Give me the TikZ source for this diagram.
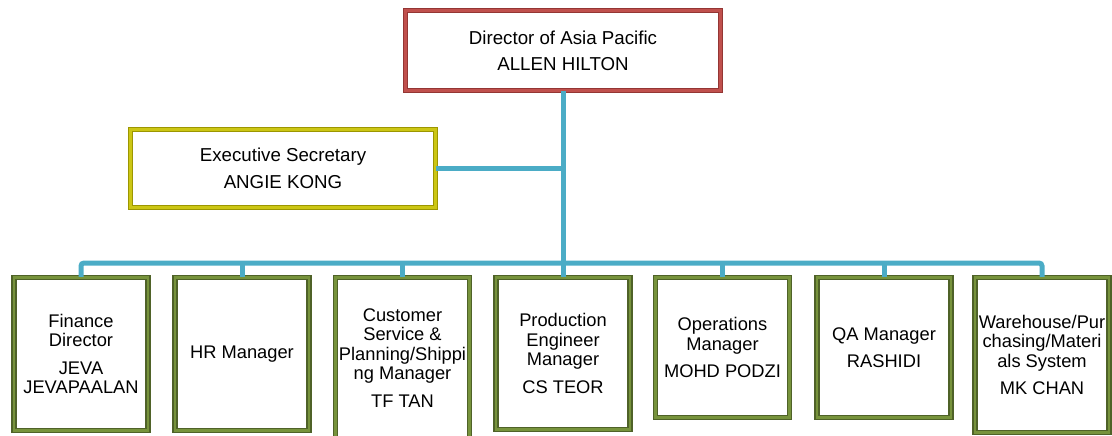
\documentclass[tikz,border=0pt]{standalone}
\usepackage{fontspec}
\setmainfont{Liberation Sans}
\usetikzlibrary{shadows}

\definecolor{linkblue}{HTML}{4BACC6}
\definecolor{redDark}{HTML}{943634}
\definecolor{redLight}{HTML}{C0504D}
\definecolor{yelDark}{HTML}{9C9600}
\definecolor{yelLight}{HTML}{CCC614}
\definecolor{grnDark}{HTML}{4F6228}
\definecolor{grnLight}{HTML}{77933C}

\begin{document}
\begin{tikzpicture}[x=1pt, y=-1pt,
  frame/.style={rectangle, inner sep=0pt, align=center, fill=white,
    line width=1.3pt, double distance=2.5pt,
    drop shadow={shadow xshift=1.5pt, shadow yshift=-2pt, opacity=0.18, fill=black}},
  headbox/.style={frame, draw=redDark, double=redLight,
    minimum width=315pt, minimum height=80pt,
    font=\fontsize{18.7}{19.5}\selectfont},
  assistbox/.style={frame, draw=yelDark, double=yelLight,
    minimum width=305pt, minimum height=78pt,
    font=\fontsize{18.7}{19.5}\selectfont},
  deptbox/.style={frame, draw=grnDark, double=grnLight,
    minimum width=134pt, font=\fontsize{18.3}{19.5}\selectfont},
  link/.style={draw=linkblue, line width=5pt}
]
\useasboundingbox (0,0) rectangle (1112,436);

% head of the region and the assistant
\node[headbox] (head) at (563,50.5)
  {Director of Asia Pacific\\[6.5pt]ALLEN HILTON};
\node[assistbox] (sec) at (283,168.5)
  {Executive Secretary\\[7.5pt]ANGIE KONG};

% department heads
\node[deptbox, minimum height=153pt] (fin) at (81,354)
  {Finance\\Director\\[8pt]JEVA\\JEVAPAALAN};
\node[deptbox, minimum height=153pt] (hr) at (242,354)
  {HR Manager};
\node[deptbox, minimum height=161pt] (cs) at (402.5,358)
  {Customer\\Service \&\\Planning/Shippi\\ng Manager\\[8pt]TF TAN};
\node[deptbox, minimum height=152pt] (prod) at (563,353.5)
  {Production\\Engineer\\Manager\\[8pt]CS TEOR};
\node[deptbox, minimum height=140pt] (ops) at (722.5,347.5)
  {Operations\\Manager\\[8pt]MOHD PODZI};
\node[deptbox, minimum height=140pt] (qa) at (884,347.5)
  {QA Manager\\[8pt]RASHIDI};
\node[deptbox, minimum height=155pt] (wh) at (1042,355)
  {Warehouse/Pur\\chasing/Materi\\als System\\[8pt]MK CHAN};

% reporting lines
\coordinate (bus) at (563,263);
\begin{scope}[on background layer/.try]
\draw[link] (sec.east) -- (sec.east -| head.south);
\draw[link] (head.south) -- (prod.north);
\draw[link, rounded corners=3pt]
  (fin.north) -- (fin.north |- bus) -- (wh.north |- bus) -- (wh.north);
\foreach \n in {hr,cs,ops,qa}
  \draw[link] (\n.north) -- (\n.north |- bus);
\end{scope}
\end{tikzpicture}
\end{document}
